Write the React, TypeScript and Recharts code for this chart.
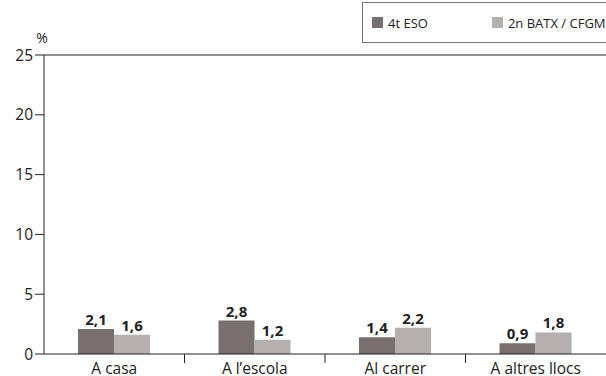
import React from 'react';
import {
  BarChart,
  Bar,
  XAxis,
  YAxis,
  LabelList,
  ReferenceLine,
} from 'recharts';

const categories = ['A casa', "A l’escola", 'Al carrer', 'A altres llocs'];
const eso = [2.1, 2.8, 1.4, 0.9];
const batx = [1.6, 1.2, 2.2, 1.8];
const yTicks = [0, 5, 10, 15, 20, 25];
const seriesNames = ['4t ESO', '2n BATX / CFGM'];

const DARK = '#786f6f';
const LIGHT = '#b5afaf';
const FONT = '"Open Sans", "Noto Sans", sans-serif';

const data = categories.map((name, i) => ({ name, eso: eso[i], batx: batx[i] }));

const fmt = (v: any) => String(v).replace('.', ',');

// category label plus a small tick at the right edge of each band (not the last)
function CatTick(props: any) {
  const { x, y, payload, index } = props;
  const half = payload?.offset ?? 0;
  return (
    <g>
      {index < categories.length - 1 && (
        <line x1={x + half} x2={x + half} y1={y - 8} y2={y + 1} stroke="#222" />
      )}
      <text x={x} y={y + 12} textAnchor="middle" fill="#222" fontSize={15.5} fontFamily={FONT}>
        {payload.value}
      </text>
    </g>
  );
}

function LegendBox() {
  const colors = [DARK, LIGHT];
  return (
    <div
      style={{
        position: 'absolute',
        left: 362,
        top: 2,
        width: 250,
        height: 41,
        border: '1px solid #777',
        boxSizing: 'border-box',
        display: 'flex',
        alignItems: 'center',
        fontFamily: FONT,
        fontSize: 13,
        color: '#222',
      }}
    >
      {seriesNames.map((n, i) => (
        <div key={n} style={{ display: 'flex', alignItems: 'center', marginLeft: i === 0 ? 9 : 64 }}>
          <span style={{ width: 11, height: 11, background: colors[i], display: 'inline-block', marginRight: 5 }} />
          {n}
        </div>
      ))}
    </div>
  );
}

export default function App() {
  return (
    <div style={{ position: 'absolute', left: 0, top: 0, width: 606, height: 376, background: '#fff', overflow: 'hidden' }}>
      <BarChart
        width={606}
        height={376}
        data={data}
        margin={{ top: 55, right: 0, left: 0, bottom: 0 }}
        barGap={0}
        barSize={36}
      >
        <XAxis
          dataKey="name"
          interval={0}
          tickLine={false}
          axisLine={{ stroke: '#222' }}
          height={22}
          tick={<CatTick />}
        />
        <YAxis
          domain={[0, 25]}
          ticks={yTicks}
          width={44}
          tickSize={9}
          axisLine={{ stroke: '#222' }}
          tickLine={{ stroke: '#222' }}
          tick={{ fill: '#222', fontSize: 15.5, fontFamily: FONT }}
          label={{ value: '%', position: 'top', offset: 12, dx: 20, fill: '#222', fontSize: 14, fontFamily: FONT }}
        />
        <ReferenceLine y={25} stroke="#222" />
        <Bar dataKey="eso" fill={DARK} isAnimationActive={false}>
          <LabelList dataKey="eso" position="top" offset={4} formatter={fmt} fill="#222" fontSize={15} fontWeight="bold" fontFamily={FONT} />
        </Bar>
        <Bar dataKey="batx" fill={LIGHT} isAnimationActive={false}>
          <LabelList dataKey="batx" position="top" offset={4} formatter={fmt} fill="#222" fontSize={15} fontWeight="bold" fontFamily={FONT} />
        </Bar>
      </BarChart>
      <LegendBox />
    </div>
  );
}
